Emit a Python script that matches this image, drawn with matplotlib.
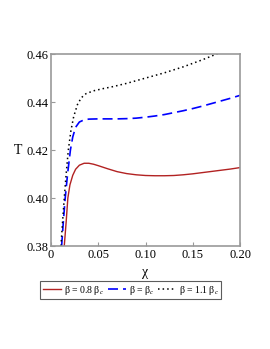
import matplotlib
matplotlib.use('Agg')
import matplotlib.pyplot as plt

# beta = 0.8 beta_c
chi_red = [0.0140, 0.0160, 0.0178, 0.020, 0.023, 0.026, 0.030, 0.035, 0.040, 0.045,
           0.050, 0.060, 0.070, 0.080, 0.090, 0.100, 0.110, 0.120, 0.130, 0.140,
           0.150, 0.160, 0.170, 0.180, 0.190, 0.200]
T_red = [0.380, 0.390, 0.400, 0.4055, 0.4095, 0.4120, 0.4137, 0.4145, 0.4145, 0.4141,
         0.4135, 0.4122, 0.4110, 0.4102, 0.4097, 0.4094, 0.4093, 0.4093, 0.4094, 0.4097,
         0.4101, 0.4106, 0.4111, 0.4116, 0.4121, 0.4127]

# beta = beta_c
chi_blue = [0.0112, 0.0130, 0.0150, 0.0175, 0.0205, 0.023, 0.026, 0.030, 0.035, 0.040,
            0.050, 0.060, 0.070, 0.080, 0.090, 0.100, 0.110, 0.120, 0.130, 0.140,
            0.150, 0.160, 0.170, 0.180, 0.190, 0.200]
T_blue = [0.380, 0.390, 0.400, 0.410, 0.420, 0.4255, 0.4295, 0.4317, 0.4326, 0.4329,
          0.4330, 0.4330, 0.4330, 0.4331, 0.4333, 0.4337, 0.4342, 0.4348, 0.4356, 0.4364,
          0.4373, 0.4383, 0.4394, 0.4405, 0.4416, 0.4428]

# beta = 1.1 beta_c
chi_black = [0.0105, 0.0122, 0.0140, 0.0160, 0.0183, 0.021, 0.024, 0.028, 0.032, 0.037,
             0.045, 0.055, 0.065, 0.080, 0.100, 0.120, 0.140, 0.160, 0.175, 0.185]
T_black = [0.380, 0.390, 0.400, 0.410, 0.420, 0.428, 0.434, 0.439, 0.4418, 0.4435,
           0.4447, 0.4456, 0.4464, 0.4478, 0.4500, 0.4522, 0.4547, 0.4576, 0.4600, 0.4620]

x_ticks = [0, 0.05, 0.10, 0.15, 0.20]
x_labels = ['0', '0.05', '0.10', '0.15', '0.20']
y_ticks = [0.38, 0.40, 0.42, 0.44, 0.46]
y_labels = ['0.38', '0.40', '0.42', '0.44', '0.46']

plt.rcParams['font.family'] = ['Liberation Serif', 'DejaVu Serif']
plt.rcParams['mathtext.fontset'] = 'custom'
plt.rcParams['mathtext.it'] = 'Liberation Serif:italic'
plt.rcParams['mathtext.rm'] = 'Liberation Serif'

fig = plt.figure(figsize=(2.70, 3.49), dpi=100)
ax = fig.add_axes([0.189, 0.295, 0.700, 0.550])

ax.plot(chi_red, T_red, color='#b22222', lw=1.0, label='β = 0.8 β$_c$')
ax.plot(chi_blue, T_blue, color='#0000ff', lw=1.2, dashes=(6, 3), label='β = β$_c$')
ax.plot(chi_black, T_black, color='black', lw=1.1, linestyle=(0, (1, 2)), label='β = 1.1 β$_c$')

ax.set_xlim(0, 0.20)
ax.set_ylim(0.38, 0.46)
ax.set_xticks(x_ticks)
ax.set_xticklabels(x_labels)
ax.set_yticks(y_ticks)
ax.set_yticklabels(y_labels)
ax.tick_params(direction='in', length=3, color='#999999', labelsize=9, pad=2)
for s in ax.spines.values():
    s.set_color('#999999')
    s.set_linewidth(1.2)

ax.set_xlabel('χ', fontsize=10, va='top')
ax.xaxis.set_label_coords(0.5, -0.105)
ax.set_ylabel('T', fontsize=10, rotation=0, va='center', ha='center')
ax.yaxis.set_label_coords(-0.175, 0.5)

leg = fig.legend(loc='center', bbox_to_anchor=(0.485, 0.168), ncol=3, fontsize=7,
                 frameon=True, fancybox=False, handlelength=1.9, handletextpad=0.3,
                 columnspacing=0.35, borderpad=0.25, borderaxespad=0.2)
leg.get_frame().set_edgecolor('#333333')
leg.get_frame().set_linewidth(0.8)

fig.savefig('out.png', dpi=100)
